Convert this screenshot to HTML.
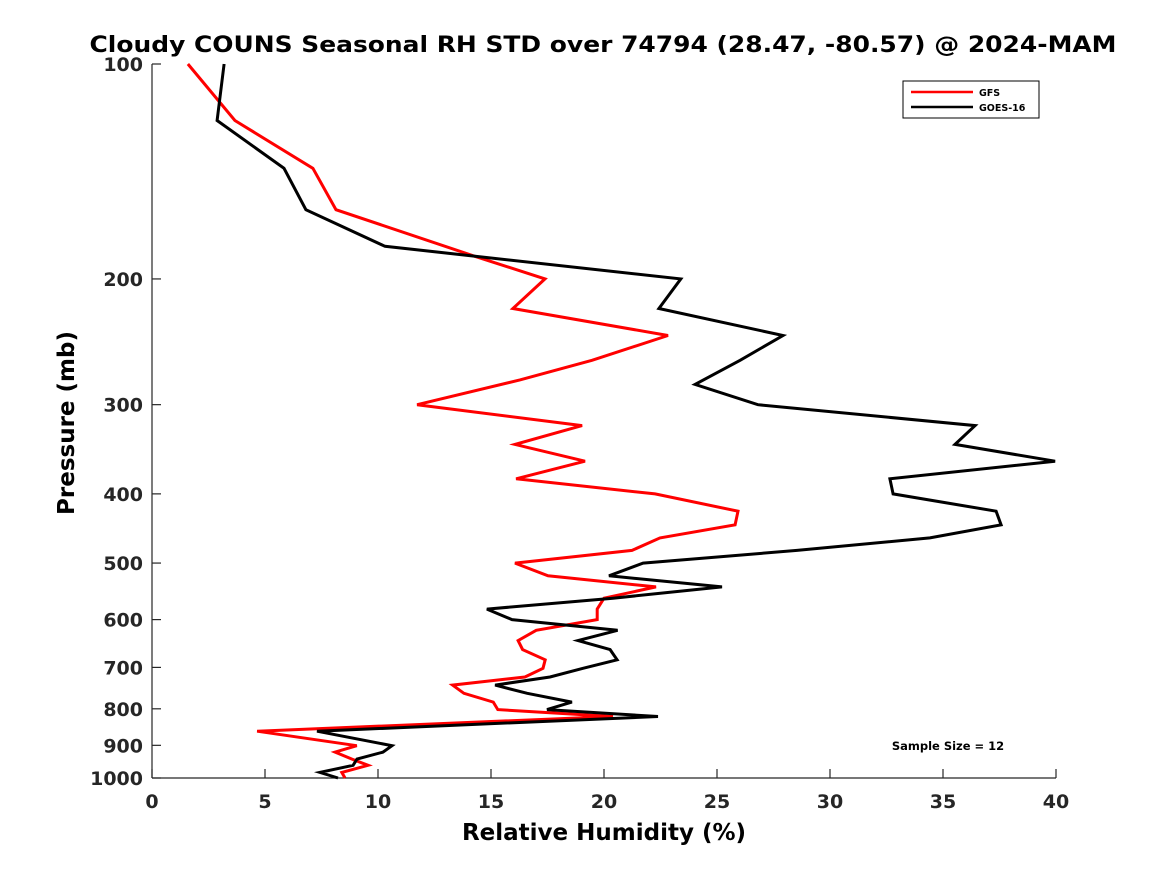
<!DOCTYPE html>
<html><head><meta charset="utf-8"><style>
body{margin:0;background:#fff;}
svg{display:block;font-family:"DejaVu Sans","Liberation Sans",sans-serif;font-weight:bold;}
</style></head><body>
<svg id="chart" width="1167" height="875">
<rect width="1167" height="875" fill="#fff"/>
<text x="603" y="52" font-size="22" text-anchor="middle" textLength="1027" lengthAdjust="spacingAndGlyphs">Cloudy COUNS Seasonal RH STD over 74794 (28.47, -80.57) @ 2024-MAM</text>
<g id="axes"></g>
<g id="series"></g>
<g>
<rect x="903" y="81" width="136" height="37" fill="#fff" stroke="#000" stroke-width="1"/>
<line x1="911" y1="92" x2="973" y2="92" stroke="#f00" stroke-width="2.5"/>
<text x="979" y="96" font-size="9.5">GFS</text>
<line x1="911" y1="107" x2="973" y2="107" stroke="#000" stroke-width="2.5"/>
<text x="979" y="111" font-size="9.5">GOES-16</text>
</g>
<text x="948" y="750" font-size="11.5" text-anchor="middle">Sample Size = 12</text>
<text x="604" y="840" font-size="23" text-anchor="middle">Relative Humidity (%)</text>
<text x="74" y="423" font-size="23" text-anchor="middle" transform="rotate(-90 74 423)">Pressure (mb)</text>
</svg>
<script>
const xTicks=[0,5,10,15,20,25,30,35,40];
const yTicks=[100,200,300,400,500,600,700,800,900,1000];
const gfsP=[100,120,140,160,186,200,220,240,260,277,300,321,341,360,381,400,423,442,461,480,500,521,540,560,580,600,621,642,661,683,702,722,741,761,783,802,820,860,901,920,941,960,982,1000];
const gfsV=[1.59,3.67,7.12,8.14,14.3,17.39,15.97,22.83,19.47,16.28,11.73,19.03,16.06,19.16,16.11,22.26,25.93,25.8,22.48,21.24,16.06,17.52,22.3,20.0,19.7,19.7,17.0,16.2,16.4,17.4,17.3,16.5,13.3,13.8,15.1,15.3,20.4,4.65,9.06,8.1,8.85,9.56,8.4,8.54];
const goesP=[100,120,140,160,180,200,220,240,260,281,300,321,341,360,381,400,423,442,461,480,500,521,540,560,580,600,621,642,661,683,702,722,741,761,783,802,820,860,901,920,941,960,982,1000];
const goesV=[3.19,2.88,5.84,6.81,10.31,23.4,22.43,27.92,26.02,24.03,26.81,36.42,35.53,39.96,32.65,32.79,37.35,37.57,34.42,28.54,21.73,20.22,25.22,20.4,14.82,15.93,20.6,18.85,20.27,20.58,19.07,17.61,15.18,16.6,18.58,17.48,22.39,7.3,10.62,10.22,9.07,8.9,7.43,8.23];
const X0=152,X1=1056,Y0=64,Y1=778;
const xs=v=>X0+(v-0)/(40-0)*(X1-X0);
const ys=p=>Y0+Math.log10(p/100)*(Y1-Y0);
const NS="http://www.w3.org/2000/svg";
function mk(tag,attrs,parent){const e=document.createElementNS(NS,tag);for(const k in attrs)e.setAttribute(k,attrs[k]);parent.appendChild(e);return e;}
const ax=document.getElementById('axes');
let l=mk('line',{x1:X0,y1:Y0,x2:X0,y2:Y1,stroke:'#262626','stroke-width':1.2},ax);


l=mk('line',{x1:X0,y1:Y1,x2:X1,y2:Y1,stroke:'#262626','stroke-width':1.2},ax);


xTicks.forEach(t=>{
 const x=xs(t);
 const tk=mk('line',{x1:x,y1:Y1,x2:x,y2:Y1-9,stroke:'#262626','stroke-width':1.2},ax);
 
 
 const tx=mk('text',{x:x,y:Y1+30,'font-size':19,'text-anchor':'middle',fill:'#262626'},ax);
 tx.textContent=t;
 
 
});
yTicks.forEach(t=>{
 const y=ys(t);
 const tk=mk('line',{x1:X0,y1:y,x2:X0+9,y2:y,stroke:'#262626','stroke-width':1.2},ax);
 
 
 const tx=mk('text',{x:X0-9,y:y+7,'font-size':19,'text-anchor':'end',fill:'#262626'},ax);
 tx.textContent=t;
 
 
});
const sg=document.getElementById('series');
function line(P,V,color,name){
 const pts=P.map((p,i)=>xs(V[i]).toFixed(1)+','+ys(p).toFixed(1)).join(' ');
 const pl=mk('polyline',{points:pts,fill:'none',stroke:color,'stroke-width':3,'stroke-linejoin':'miter'},sg);
 
 
}
line(gfsP,gfsV,'#f00','gfs-line');
line(goesP,goesV,'#000','goes16-line');
</script>
</body></html>
